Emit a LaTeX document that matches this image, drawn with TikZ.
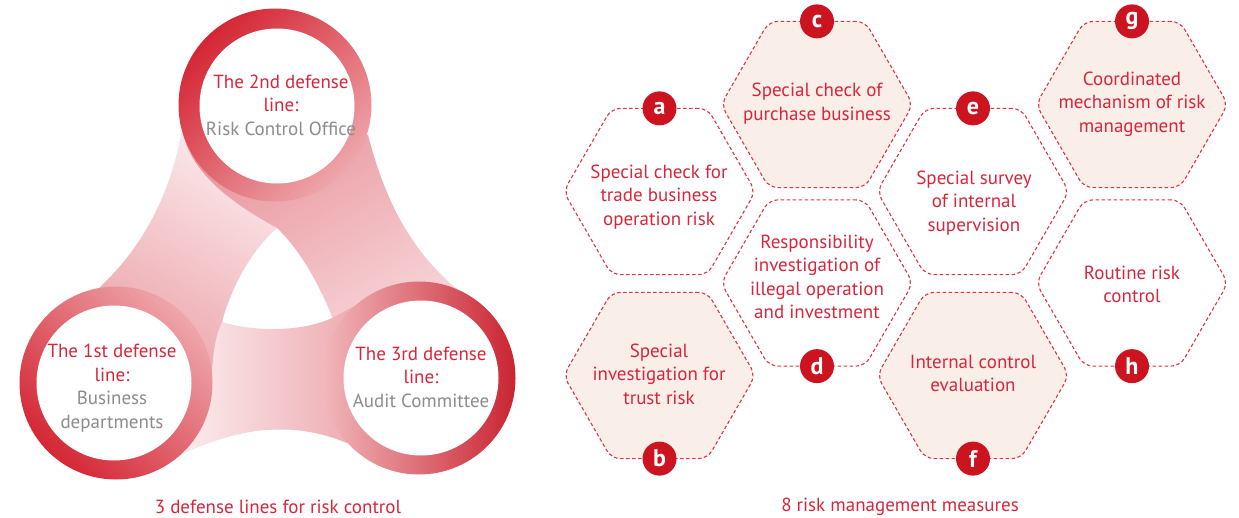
\documentclass[tikz,border=0pt]{standalone}
\usepackage{fontspec}
\setmainfont{PT Sans}
\usetikzlibrary{shapes.geometric}
\definecolor{tred}{HTML}{D7263B}
\definecolor{badgered}{HTML}{CC1420}
\definecolor{dashred}{HTML}{DE3340}
\definecolor{hexfill}{HTML}{FAEEE9}
\definecolor{tgray}{HTML}{8C8C8C}
\definecolor{rdark}{HTML}{D42634}
\definecolor{rlight}{HTML}{EEA6AB}
\definecolor{bdark}{HTML}{E8939A}
\definecolor{blight}{HTML}{FCEEF0}
\newcommand\LBpath{(182,128) .. controls (172,190) and (145,245) .. (100,287) -- (116,383) -- (177,457) .. controls (196,440) and (210,410) .. (212,370) .. controls (214,345) and (216,335) .. (222,322) .. controls (232,285) and (252,250) .. (277,228) -- (290,200) -- (275,105) -- cycle}
\newcommand\RBpath{(183,133) .. controls (192,175) and (235,205) .. (277,228) .. controls (300,250) and (320,285) .. (334,322) -- (360,340) -- (419,378) -- (458,290) .. controls (410,250) and (385,200) .. (368,135) -- (275,105) -- cycle}
\newcommand\BBpath{(200,330) -- (222,322) .. controls (250,331) and (300,333) .. (332,318) .. controls (355,306) and (378,292) .. (402,286) -- (419,378) -- (347,443) .. controls (320,432) and (295,428) .. (267,430) .. controls (235,432) and (200,445) .. (177,457) -- cycle}
\begin{document}
\begin{tikzpicture}[x=1pt,y=-1pt,
  lbshade/.style={top color=blight, bottom color=bdark, shading angle=-30},
  rbshade/.style={top color=bdark, bottom color=blight!80!bdark, shading angle=30},
  bbshade/.style={top color=blight, bottom color=bdark, shading angle=90},
  ring/.style={circle, minimum size=193pt, inner sep=0pt, outer sep=0pt},
  disc/.style={circle, fill=white, minimum size=155pt, inner sep=0pt, outer sep=0pt},
  ringtext/.style={align=center, text=tred, font=\fontsize{19}{23.5}\selectfont},
  hexa/.style={regular polygon, regular polygon sides=6, minimum size=192pt, inner sep=0pt, outer sep=0pt, draw=dashred, line width=1.1pt, dash pattern=on 3.5pt off 2.5pt, rounded corners=9pt},
  hexlabel/.style={align=center, text=tred, font=\fontsize{19}{23.5}\selectfont},
  badge/.style={circle, fill=badgered, minimum size=34pt, inner sep=0pt, text=white, font=\fontsize{24}{24}\selectfont\bfseries},
  caption/.style={text=tred, font=\fontsize{19}{20}\selectfont}]
\useasboundingbox (0,0) rectangle (1239,518);
% bands
\shade[lbshade] \LBpath;
\shade[rbshade] \RBpath;
\shade[bbshade] \BBpath;
\begin{scope}
\clip (140,322) rectangle (240,470);
\shade[lbshade] \LBpath;
\end{scope}
% rings
\node[ring, top color=rdark, bottom color=rlight, shading angle=45] (r2) at (275,105) {};
\node[ring, top color=rdark, bottom color=rlight, shading angle=135] (r1) at (116,383) {};
\node[ring, top color=rdark!95!black, bottom color=rlight!80!white, shading angle=-90] (r3) at (419,378) {};
\node[disc] (d2) at (277,106) {};
\node[disc] (d1) at (114,383) {};
\node[disc] (d3) at (421,378) {};
\node[ringtext] (t2) at (281,105) {The 2nd defense\\line:\\\textcolor{tgray}{Risk Control Office}};
\node[ringtext] (t1) at (112,388) {The 1st defense\\line:\\\textcolor{tgray}{Business}\\\textcolor{tgray}{departments}};
\node[ringtext] (t3) at (421,377) {The 3rd defense\\line:\\\textcolor{tgray}{Audit Committee}};
\node[caption] (cap1) at (278,507) {3 defense lines for risk control};
% hexagons
\node[hexa] (ha) at (659.5,191.5) {};
\node[hexa, fill=hexfill] (hb) at (659.5,375.5) {};
\node[hexa, fill=hexfill] (hc) at (817,104.5) {};
\node[hexa] (hd) at (817,283) {};
\node[hexa] (he) at (973,191.5) {};
\node[hexa, fill=hexfill] (hf) at (973,375.5) {};
\node[hexa, fill=hexfill] (hg) at (1132,104.5) {};
\node[hexa] (hh) at (1132,283) {};
\node[hexlabel] (la) at (659,197) {Special check for\\trade business\\operation risk};
\node[hexlabel] (lb) at (659,374) {Special\\investigation for\\trust risk};
\node[hexlabel] (lc) at (817,103.5) {Special check of\\purchase business};
\node[hexlabel] (ld) at (817,277) {Responsibility\\investigation of\\illegal operation\\and investment};
\node[hexlabel] (le) at (974,203) {Special survey\\of internal\\supervision};
\node[hexlabel] (lf) at (973,373.5) {Internal control\\evaluation};
\node[hexlabel] (lg) at (1132,104) {Coordinated\\mechanism of risk\\management};
\node[hexlabel] (lh) at (1132,284.5) {Routine risk\\control};
\node[badge] (ba) at (ha.north) {a};
\node[badge] (bb) at (hb.south) {b};
\node[badge] (bc) at (hc.north) {c};
\node[badge] (bd) at (hd.south) {d};
\node[badge] (be) at (he.north) {e};
\node[badge] (bf) at (hf.south) {f};
\node[badge] (bg) at (hg.north) {g};
\node[badge] (bh) at (hh.south) {h};
\node[caption] (cap2) at (900,507) {8 risk management measures};
\end{tikzpicture}
\end{document}
